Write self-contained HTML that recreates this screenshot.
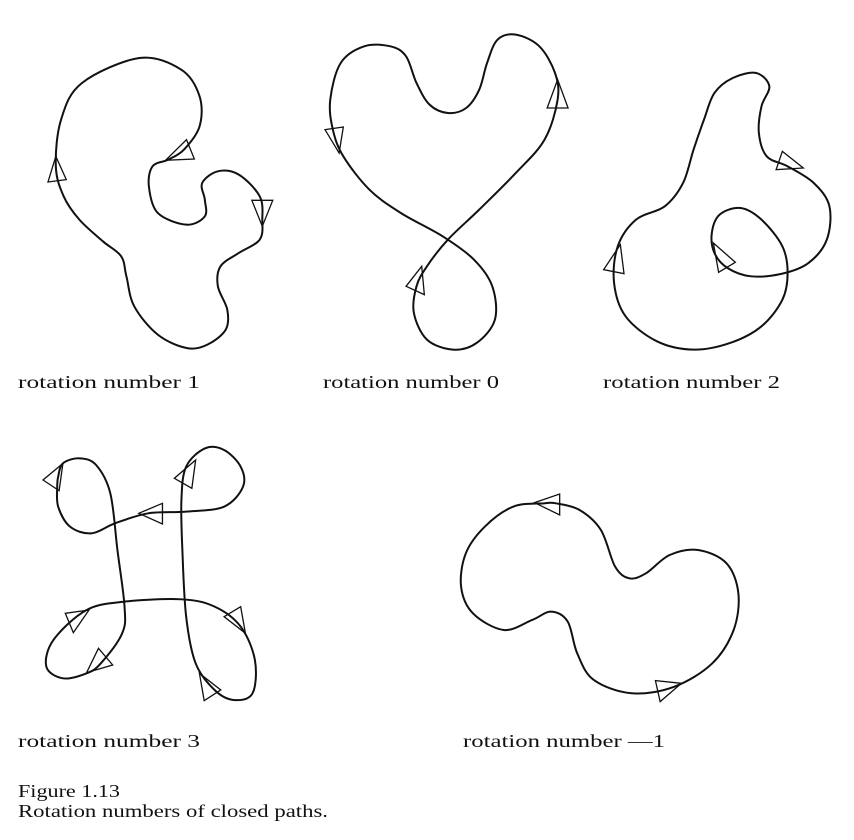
<!DOCTYPE html>
<html><head><meta charset="utf-8"><style>
body{margin:0;background:#fff;width:854px;height:840px;overflow:hidden}
svg{position:absolute;left:0;top:0}
text{font-family:"Liberation Serif",serif;font-size:18px;fill:#111}
</style></head><body>
<svg id="fig" width="854" height="840">
<g id="g1" transform="matrix(0.5227 0 0 0.3333 29.7 33)"></g>
<g id="g2" transform="matrix(0.474 0 0 0.3333 25.0 400)"></g>
<text x="18" y="388" textLength="182" lengthAdjust="spacingAndGlyphs">rotation number 1</text>
<text x="323" y="388" textLength="176" lengthAdjust="spacingAndGlyphs">rotation number 0</text>
<text x="603" y="388" textLength="177" lengthAdjust="spacingAndGlyphs">rotation number 2</text>
<text x="18" y="747" textLength="182" lengthAdjust="spacingAndGlyphs">rotation number 3</text>
<text x="463" y="747" textLength="202" lengthAdjust="spacingAndGlyphs">rotation number —1</text>
<text x="18" y="797" textLength="102" lengthAdjust="spacingAndGlyphs">Figure 1.13</text>
<text x="18" y="817" textLength="310" lengthAdjust="spacingAndGlyphs">Rotation numbers of closed paths.</text>
</svg>
<script>
const curve1=[[50,400],[60,260],[100,150],[210,75],[290,110],[325,190],[325,280],[295,350],[265,380],[235,400],[228,460],[245,540],[300,575],[335,550],[335,500],[330,450],[360,415],[400,425],[440,490],[445,560],[440,620],[400,660],[365,700],[360,760],[378,830],[375,890],[340,935],[300,945],[245,905],[200,820],[185,730],[175,670],[140,625],[95,560],[65,490]];
const tris1=[[[50,370],[35,447],[70,440]],[[300,320],[315,378],[260,382]],[[425,502],[465,502],[445,580]]];
const curve2=[[1010,200],[1005,120],[975,40],[930,5],[895,20],[875,90],[860,170],[835,225],[800,240],[765,215],[740,150],[720,70],[690,40],[640,40],[595,90],[575,200],[580,290],[600,370],[650,470],[710,540],[790,610],[850,680],[885,760],[890,860],[855,930],[810,950],[760,920],[735,840],[740,760],[760,700],[800,620],[860,530],[930,420],[985,320]];
const tris2=[[[1010,140],[990,225],[1030,225]],[[565,290],[600,282],[592,360]],[[750,700],[720,760],[755,785]]];
const curve3=[[1450,400],[1500,450],[1530,520],[1525,620],[1490,690],[1440,722],[1380,730],[1335,705],[1310,660],[1305,600],[1320,545],[1360,525],[1400,560],[1440,640],[1450,720],[1440,800],[1400,880],[1340,930],[1270,950],[1200,925],[1140,850],[1118,750],[1125,640],[1160,560],[1215,520],[1250,450],[1270,350],[1290,260],[1310,180],[1345,135],[1390,120],[1415,160],[1400,220],[1395,300],[1410,370]];
const tris3=[[[1440,355],[1480,405],[1428,410]],[[1308,630],[1350,688],[1318,718]],[[1130,635],[1098,710],[1137,722]]];
const curve4=[[70,230],[80,190],[115,175],[150,195],[180,280],[195,450],[210,620],[205,700],[160,790],[130,820],[80,835],[45,800],[60,720],[130,630],[210,605],[330,598],[400,620],[455,680],[485,780],[480,880],[440,900],[400,870],[360,790],[340,650],[332,450],[330,300],[340,200],[380,145],[420,150],[455,200],[460,260],[420,320],[340,335],[260,340],[190,370],[140,400],[95,380],[70,320],[68,260]];
const tris4=[[[80,190],[38,240],[72,272]],[[240,340],[290,310],[290,372]],[[360,180],[315,235],[352,265]],[[135,630],[85,640],[102,698]],[[155,745],[185,795],[130,818]],[[455,620],[420,650],[465,700]],[[368,820],[378,902],[413,870]]];
const curve5=[[1095,310],[1030,320],[970,380],[930,460],[920,560],[945,640],[1010,690],[1070,660],[1110,635],[1145,665],[1165,760],[1200,840],[1280,880],[1370,860],[1450,790],[1495,690],[1505,580],[1480,490],[1420,450],[1360,465],[1310,520],[1275,535],[1245,500],[1215,390],[1170,330],[1120,310]];
const tris5=[[[1075,308],[1128,282],[1128,345]],[[1385,850],[1330,842],[1340,905]]];
const NS="http://www.w3.org/2000/svg";
function smooth(p){const n=p.length;let d="M"+p[0][0]+","+p[0][1];
for(let i=0;i<n;i++){const p0=p[(i-1+n)%n],p1=p[i],p2=p[(i+1)%n],p3=p[(i+2)%n];
const c1=[p1[0]+(p2[0]-p0[0])/6,p1[1]+(p2[1]-p0[1])/6],c2=[p2[0]-(p3[0]-p1[0])/6,p2[1]-(p3[1]-p1[1])/6];
d+=" C"+c1+" "+c2+" "+p2;}return d+"Z";}
function draw(g,pts,tris,name){
const path=document.createElementNS(NS,"path");
path.setAttribute("d",smooth(pts));
path.setAttribute("fill","none");path.setAttribute("stroke","#111");path.setAttribute("stroke-width","2");
path.setAttribute("vector-effect","non-scaling-stroke");


g.appendChild(path);
tris.forEach(t=>{const pg=document.createElementNS(NS,"polygon");
pg.setAttribute("points",t.map(q=>q.join(",")).join(" "));
pg.setAttribute("fill","none");pg.setAttribute("stroke","#111");pg.setAttribute("stroke-width","1.3");
pg.setAttribute("vector-effect","non-scaling-stroke");


g.appendChild(pg);});}
const g1=document.getElementById("g1"),g2=document.getElementById("g2");
draw(g1,curve1,tris1,"curve-rotation-1");
draw(g1,curve2,tris2,"curve-rotation-0");
draw(g1,curve3,tris3,"curve-rotation-2");
draw(g2,curve4,tris4,"curve-rotation-3");
draw(g2,curve5,tris5,"curve-rotation-minus-1");
</script>
</body></html>
